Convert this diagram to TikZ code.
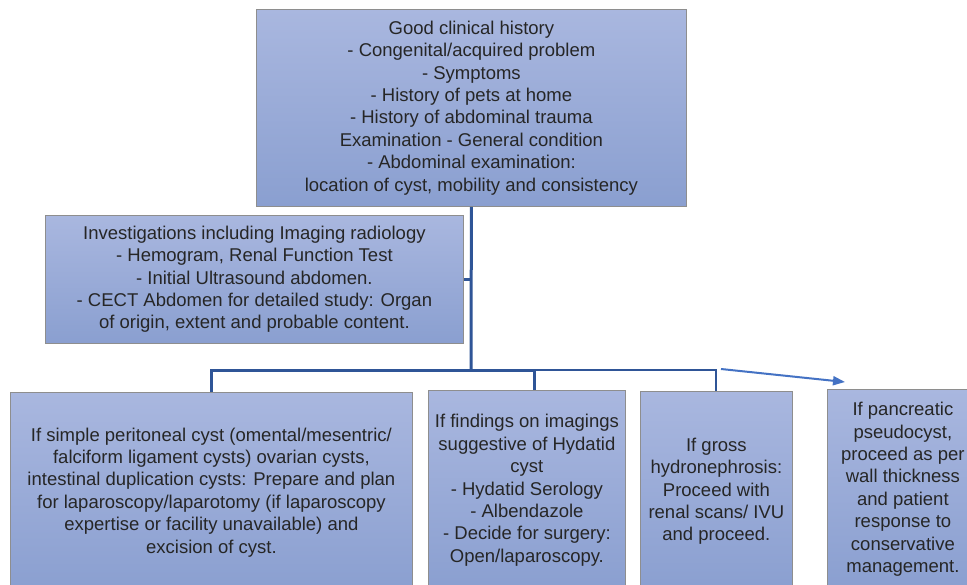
\documentclass[tikz,border=0pt]{standalone}
\usepackage{fontspec}
\setmainfont{Liberation Sans}
\usetikzlibrary{arrows.meta,calc}
\definecolor{boxtop}{HTML}{A9B7DF}
\definecolor{boxbot}{HTML}{8A9FD0}
\definecolor{boxline}{HTML}{8E8E8E}
\definecolor{txt}{HTML}{262626}
\definecolor{conncol}{HTML}{2F5597}
\definecolor{arrcol}{HTML}{4472C4}
\tikzset{
  x=1pt, y=-1pt,
  flowbox/.style={draw=boxline, line width=0.8pt, top color=boxtop, bottom color=boxbot,
    anchor=north west, inner sep=0pt, align=center, text=txt,
    font=\fontsize{18.5}{22.4}\selectfont},
  conn/.style={draw=conncol, line width=3pt},
  thinconn/.style={draw=conncol, line width=2pt},
  arrconn/.style={draw=arrcol, line width=2pt, -{Triangle[length=12pt,width=9pt]}}
}
\begin{document}
\begin{tikzpicture}
\clip (0,0) rectangle (967,584);
\fill[white] (0,0) rectangle (967,584);
\node[flowbox, minimum width=430pt, minimum height=197pt] (top) at (256,9)
  {Good clinical history\\- Congenital/acquired problem\\- Symptoms\\- History of pets at home\\- History of abdominal trauma\\Examination - General condition\\- Abdominal examination:\\location of cyst, mobility and consistency};
\node[flowbox, minimum width=418pt, minimum height=128pt] (inv) at (45,215)
  {Investigations including Imaging radiology\\- Hemogram, Renal Function Test\\- Initial Ultrasound abdomen.\\- CECT Abdomen for detailed study: Organ\\of origin, extent and probable content.};
\node[flowbox, minimum width=402pt, minimum height=200pt] (b1) at (10,392)
  {If simple peritoneal cyst (omental/mesentric/\\falciform ligament cysts) ovarian cysts,\\intestinal duplication cysts: Prepare and plan\\for laparoscopy/laparotomy (if laparoscopy\\expertise or facility unavailable) and\\excision of cyst.};
\node[flowbox, minimum width=197pt, minimum height=200pt] (b2) at (428,390)
  {If findings on imagings\\suggestive of Hydatid\\cyst\\- Hydatid Serology\\- Albendazole\\- Decide for surgery:\\Open/laparoscopy.};
\node[flowbox, minimum width=152pt, minimum height=200pt] (b3) at (640,391)
  {If gross\\hydronephrosis:\\Proceed with\\renal scans/ IVU\\and proceed.};
\node[flowbox, minimum width=151pt, minimum height=200pt] (b4) at (827,389)
  {If pancreatic\\pseudocyst,\\proceed as per\\wall thickness\\and patient\\response to\\conservative\\management.};
% junctions
\coordinate (j) at (471,370);
\coordinate (j2) at (534,370);
\coordinate (astart) at (721,369);
\coordinate (aend) at (845,382);
\draw[conn] (top.south) -- (j);
\draw[conn] (inv.east) -- (inv.east -| j);
\draw[conn] (b1.north) |- (j) -- (j2) -- (j2 |- b2.north);
\draw[thinconn] (j2) -| (b3.north);
\draw[arrconn] (astart) -- (aend);
\end{tikzpicture}
\end{document}
